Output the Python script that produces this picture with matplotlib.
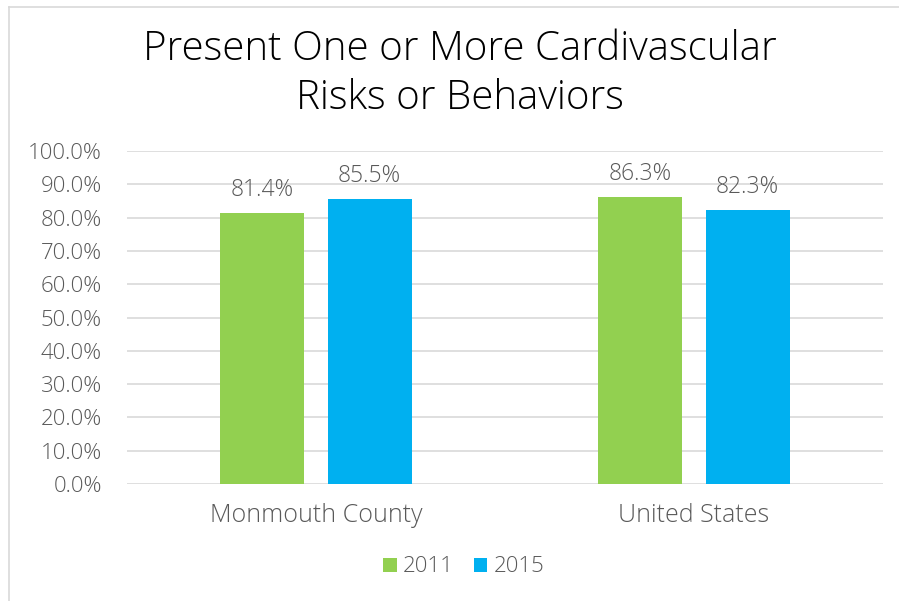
import matplotlib
matplotlib.use("Agg")
import matplotlib.pyplot as plt
import numpy as np
from matplotlib.lines import Line2D

categories = ["Monmouth County", "United States"]
series_names = ["2011", "2015"]
values_2011 = [81.4, 86.3]
values_2015 = [85.5, 82.3]
yticks = [0, 10, 20, 30, 40, 50, 60, 70, 80, 90, 100]

GREEN = "#92D050"
BLUE = "#00B0F0"
GRAY = "#595959"
GRID = "#D9D9D9"

plt.rcParams['font.family'] = ['Open Sans', 'DejaVu Sans']
plt.rcParams['font.weight'] = 'light'

fig = plt.figure(figsize=(8.99, 6.01), dpi=100)
bx, by = 8.5/899, 1 - 6.5/601
fig.add_artist(Line2D([bx, 1.0], [by, by], transform=fig.transFigure, color=GRID, linewidth=1.2))
fig.add_artist(Line2D([bx, bx], [0.0, by], transform=fig.transFigure, color=GRID, linewidth=1.2))

ax = fig.add_axes([127/899, 1 - 484/601, (883-127)/899, (484-151)/601])
x = np.arange(len(categories))
w = 0.222
off = 0.142
b1 = ax.bar(x - off, values_2011, w, color=GREEN, label=series_names[0], zorder=3)
b2 = ax.bar(x + off, values_2015, w, color=BLUE, label=series_names[1], zorder=3)
for bars, vals in ((b1, values_2011), (b2, values_2015)):
    for r, v in zip(bars, vals):
        ax.annotate(f"{v:.1f}%", (r.get_x() + r.get_width()/2, v), xytext=(0, 8),
                    textcoords="offset points", ha="center", va="bottom",
                    fontsize=16.5, color=GRAY)

ax.set_xlim(-0.5, 1.5)
ax.set_ylim(0, 100)
ax.set_yticks(yticks)
ax.set_yticklabels([f"{t:.1f}%" for t in yticks])
ax.set_xticks(x)
ax.set_xticklabels(categories)
ax.tick_params(axis='y', length=0, pad=18, labelsize=16, labelcolor=GRAY)
ax.tick_params(axis='x', length=0, pad=14, labelsize=18, labelcolor=GRAY)
ax.grid(axis='y', color=GRID, linewidth=1.2, zorder=0)
for s in ax.spines.values():
    s.set_visible(False)
ax.set_facecolor("none")

fig.text(460/899, 1 - 74/601, "Present One or More Cardivascular\nRisks or Behaviors",
         ha="center", va="center", fontsize=29, color="#000000", linespacing=1.25)

fig.legend(handles=[b1, b2], labels=series_names, loc="center",
           bbox_to_anchor=(464/899, 1 - 567/601), ncol=2, frameon=False,
           fontsize=16, labelcolor=GRAY, handlelength=0.6, handleheight=0.6,
           handletextpad=0.3, columnspacing=0.9)

fig.savefig("out.png", dpi=100)
